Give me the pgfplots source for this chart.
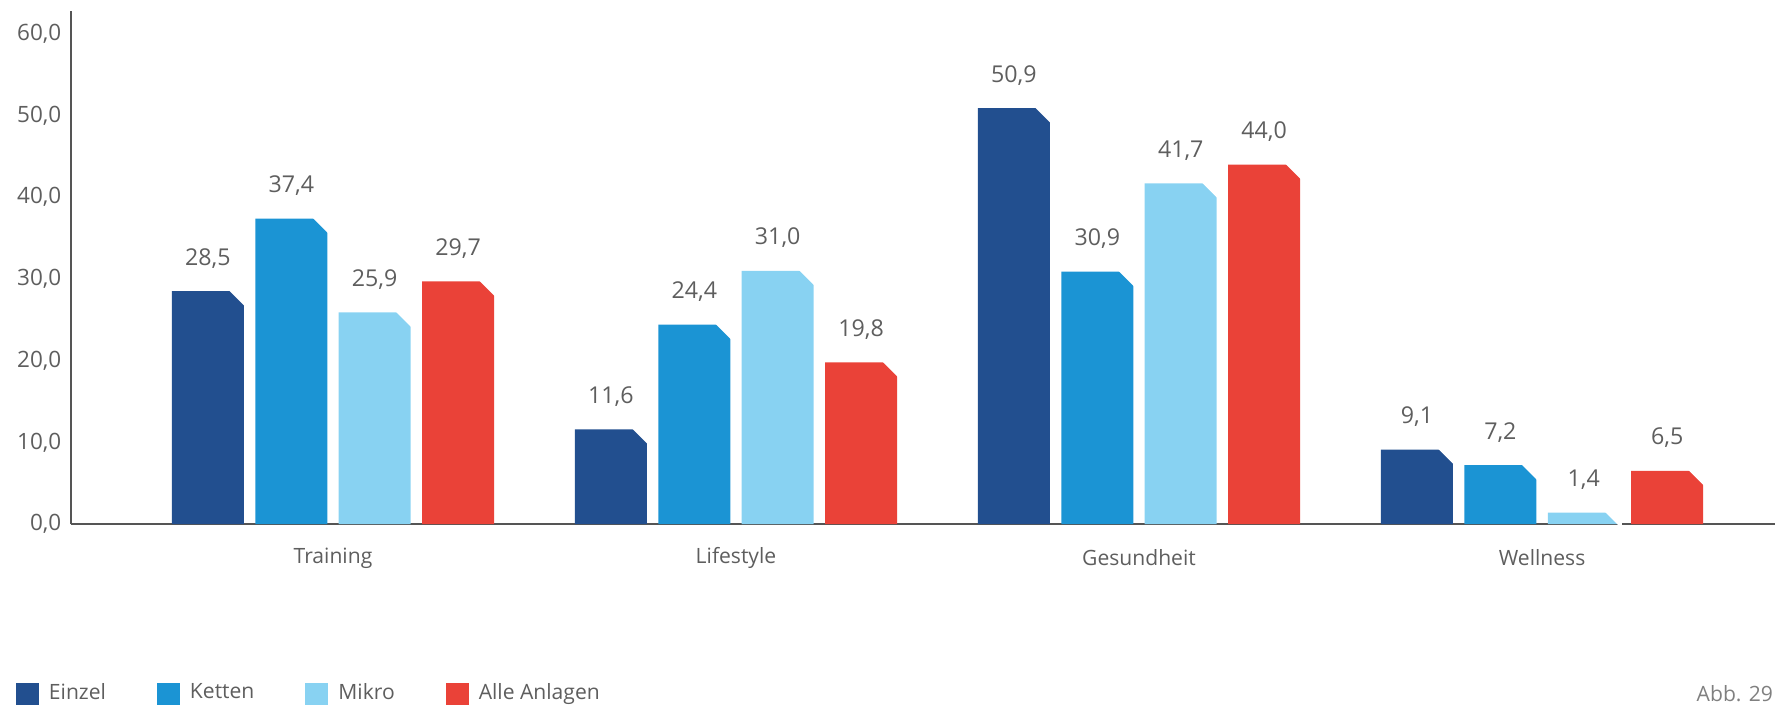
\documentclass[border=0pt]{standalone}
\usepackage{pgfplots}
\pgfplotsset{compat=1.18}
\usepackage{fontspec}
\setmainfont{Open Sans}
\definecolor{cEin}{HTML}{224F8F}
\definecolor{cKet}{HTML}{1B94D4}
\definecolor{cMik}{HTML}{88D2F2}
\definecolor{cAll}{HTML}{EA4238}
\definecolor{txtgray}{HTML}{5E5E5E}
\definecolor{axisgray}{HTML}{555555}
% bevel at the top right corner of a bar whose right edge is #2 mm from the group centre
\newcommand\bevelmark[2]{%
  \pgfdeclareplotmark{#1}{%
    \pgfpathmoveto{\pgfpoint{#2mm-1.7mm}{0.3mm}}%
    \pgfpathlineto{\pgfpoint{#2mm+0.2mm}{0.3mm}}%
    \pgfpathlineto{\pgfpoint{#2mm+0.2mm}{-1.6mm}}%
    \pgfpathclose
    \pgfusepathqfill}}
\bevelmark{bevA}{-8.91}
\bevelmark{bevB}{-0.57}
\bevelmark{bevC}{7.77}
\bevelmark{bevD}{16.11}
\begin{document}
\begin{tikzpicture}
\useasboundingbox (0,0) rectangle (17.75cm,7.09cm);
\begin{axis}[
  at={(0.71cm,1.85cm)}, anchor=south west,
  scale only axis, width=17.04cm, height=5.13cm,
  xmin=-0.650, xmax=3.578, ymin=0, ymax=62.8,
  axis lines=left,
  axis line style={draw=axisgray, line width=0.7pt, -},
  xtick={0,1,2,3},
  xticklabels={Training,Lifestyle,Gesundheit,Wellness},
  ytick={0,10,20,30,40,50,60},
  major tick length=0pt,
  clip marker paths=true,
  ybar=1.14mm, bar width=7.2mm,
  /pgf/number format/use comma,
  /pgf/number format/fixed,
  /pgf/number format/fixed zerofill,
  /pgf/number format/precision=1,
  /pgf/number format/assume math mode=true,
  yticklabel style={anchor=east, xshift=-0.9mm, inner sep=0pt, font=\fontsize{6.4}{7}\selectfont, text=txtgray},
  xticklabel style={anchor=center, yshift=-3.4mm, inner sep=0pt, font=\fontsize{6}{7}\selectfont, text=txtgray},
  nodes near coords,
  nodes near coords style={anchor=center, yshift=3.3mm, inner sep=0pt, font=\fontsize{6.6}{7}\selectfont, text=txtgray},
  every axis plot/.append style={draw=none},
  legend columns=4,
  legend image code/.code={\fill[#1,draw=none] (0,-1.1mm) rectangle (2.3mm,1.1mm);},
  legend style={at={(-0.0323,-0.331)}, anchor=west, draw=none, fill=none,
    inner sep=0pt, outer sep=0pt, font=\fontsize{6}{7}\selectfont, text=txtgray,
    nodes={inner sep=0pt},
    /tikz/every even column/.append style={column sep=5.1mm},
    /tikz/every odd column/.append style={column sep=1mm}},
]
\addplot[fill=cEin, mark=bevA, mark options={fill=white, draw=none}] coordinates {(0,28.5) (1,11.6) (2,50.9) (3,9.1)};
\addplot[fill=cKet, mark=bevB, mark options={fill=white, draw=none}] coordinates {(0,37.4) (1,24.4) (2,30.9) (3,7.2)};
\addplot[fill=cMik, mark=bevC, mark options={fill=white, draw=none}] coordinates {(0,25.9) (1,31.0) (2,41.7) (3,1.4)};
\addplot[fill=cAll, mark=bevD, mark options={fill=white, draw=none}] coordinates {(0,29.7) (1,19.8) (2,44.0) (3,6.5)};
\legend{Einzel,Ketten,Mikro,Alle Anlagen}
\end{axis}
\node[anchor=west, inner sep=0pt, font=\fontsize{6}{7}\selectfont, text=gray] at (16.96cm,0.15cm) {Abb. 29};
\end{tikzpicture}
\end{document}
